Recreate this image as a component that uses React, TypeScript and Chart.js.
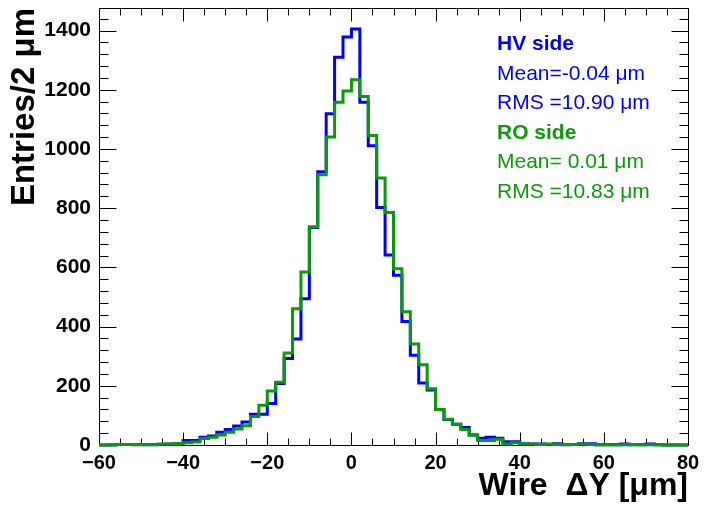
import React, { useEffect, useRef } from 'react';
import { Chart, registerables } from 'chart.js';

Chart.register(...registerables);

// Bin edges (µm), 2 µm bins from -60 to 80
const binEdges = [
  -60, -58, -56, -54, -52, -50, -48, -46, -44, -42,
  -40, -38, -36, -34, -32, -30, -28, -26, -24, -22,
  -20, -18, -16, -14, -12, -10, -8, -6, -4, -2,
  0, 2, 4, 6, 8, 10, 12, 14, 16, 18,
  20, 22, 24, 26, 28, 30, 32, 34, 36, 38,
  40, 42, 44, 46, 48, 50, 52, 54, 56, 58,
  60, 62, 64, 66, 68, 70, 72, 74, 76, 78, 80,
];

// HV side entries per bin
const hvCounts = [
  0, 0, 2, 2, 1, 1, 1, 2, 3, 4,
  15, 15, 26, 30, 43, 52, 64, 78, 104, 104,
  140, 208, 292, 358, 494, 735, 923, 1119, 1310, 1378,
  1405, 1158, 1011, 802, 642, 573, 417, 303, 209, 186,
  120, 86, 70, 59, 34, 23, 26, 23, 11, 11,
  4, 3, 3, 2, 4, 1, 2, 4, 4, 1,
  1, 1, 3, 1, 1, 3, 1, 0, 0, 0,
];

// RO side entries per bin
const roCounts = [
  0, 1, 2, 2, 2, 2, 2, 3, 3, 5,
  8, 10, 22, 26, 34, 43, 54, 65, 96, 134,
  182, 212, 311, 460, 584, 737, 913, 1040, 1158, 1196,
  1234, 1177, 1045, 902, 785, 595, 450, 341, 271, 190,
  120, 87, 70, 52, 34, 15, 15, 19, 3, 8,
  3, 3, 2, 3, 2, 2, 2, 3, 2, 1,
  1, 1, 1, 2, 1, 1, 1, 0, 1, 0,
];

const hvStats = ['HV side', 'Mean=-0.04 \u03bcm', 'RMS =10.90 \u03bcm'];
const roStats = ['RO side', 'Mean= 0.01 \u03bcm', 'RMS =10.83 \u03bcm'];

const X_MIN = -60;
const X_MAX = 80;
const Y_MAX = 1476;

const BLUE = '#0000ff';
const GREEN = '#0a990a';
const FONT = '"Liberation Sans", Arial, Helvetica, sans-serif';

function toStepPoints(counts: number[]) {
  const pts = binEdges.slice(0, counts.length).map((e, i) => ({ x: e, y: counts[i] }));
  pts.push({ x: binEdges[binEdges.length - 1], y: counts[counts.length - 1] });
  return pts;
}

const fmt = (v: number) => (v < 0 ? '\u2212' + String(Math.abs(v)) : String(v));

const rootFrame = {
  id: 'rootFrame',
  beforeDatasetsDraw(chart: any) {
    const { ctx, chartArea: a, scales } = chart;
    const xs = scales.x;
    const ys = scales.y;
    ctx.save();
    ctx.strokeStyle = '#000';
    ctx.lineWidth = 1;
    const L = Math.round(a.left) + 0.5;
    const R = Math.round(a.right) + 0.5;
    const T = Math.round(a.top) + 0.5;
    const B = Math.round(a.bottom) + 0.5;
    ctx.beginPath();
    ctx.rect(L, T, R - L, B - T);
    ctx.stroke();
    ctx.beginPath();
    for (let v = X_MIN; v <= X_MAX; v += 5) {
      const px = Math.round(xs.getPixelForValue(v)) + 0.5;
      const len = v % 20 === 0 ? 13 : 7;
      ctx.moveTo(px, B);
      ctx.lineTo(px, B - len);
      ctx.moveTo(px, T);
      ctx.lineTo(px, T + len);
    }
    for (let v = 0; v <= Y_MAX; v += 40) {
      const py = Math.round(ys.getPixelForValue(v)) + 0.5;
      const len = v % 200 === 0 ? 17 : 9;
      ctx.moveTo(L, py);
      ctx.lineTo(L + len, py);
      ctx.moveTo(R, py);
      ctx.lineTo(R - len, py);
    }
    ctx.stroke();
    ctx.restore();
  },
  afterDraw(chart: any) {
    const { ctx } = chart;
    ctx.save();
    ctx.textAlign = 'left';
    ctx.textBaseline = 'alphabetic';
    const x0 = 497;
    const base = [50, 79.5, 109, 138.5, 168, 197.5];
    const lines = [...hvStats, ...roStats];
    lines.forEach((t, i) => {
      const isHead = i % 3 === 0;
      ctx.font = (isHead ? 'bold ' : '') + '21px ' + FONT;
      ctx.fillStyle = i < 3 ? BLUE : GREEN;
      ctx.fillText(t, x0, base[i]);
    });
    ctx.restore();
  },
};

export default function App() {
  const ref = useRef<HTMLCanvasElement | null>(null);
  useEffect(() => {
    if (!ref.current) return;
    const chart = new Chart(ref.current, {
      type: 'line',
      data: {
        datasets: [
          {
            label: 'RO side',
            data: toStepPoints(roCounts),
            borderColor: GREEN,
            borderWidth: 3,
            pointRadius: 0,
            stepped: 'before',
            fill: false,
            clip: 6,
          },
          {
            label: 'HV side',
            data: toStepPoints(hvCounts),
            borderColor: BLUE,
            borderWidth: 3,
            pointRadius: 0,
            stepped: 'before',
            fill: false,
            clip: 6,
          },
        ],
      },
      options: {
        responsive: false,
        animation: false,
        layout: { padding: { top: 8, right: 19, left: 0, bottom: 0 } },
        plugins: { legend: { display: false }, tooltip: { enabled: false } },
        scales: {
          x: {
            type: 'linear',
            min: X_MIN,
            max: X_MAX,
            grid: { display: false, drawTicks: false },
            border: { display: false },
            ticks: {
              stepSize: 20,
              autoSkip: false,
              maxRotation: 0,
              includeBounds: false,
              padding: 6,
              color: '#000',
              font: { family: FONT, size: 20, weight: 'bold' },
              callback: (v: any) => fmt(Number(v)),
            },
            title: {
              display: true,
              text: 'Wire  \u0394Y [\u03bcm]',
              align: 'end',
              color: '#000',
              font: { family: FONT, size: 32, weight: 'bold' },
              padding: { top: 0, bottom: 5 },
            },
            afterFit: (s: any) => {
              s.height = 65;
              s.paddingLeft = 0;
              s.paddingRight = 0;
            },
          },
          y: {
            type: 'linear',
            min: 0,
            max: Y_MAX,
            grid: { display: false, drawTicks: false },
            border: { display: false },
            ticks: {
              stepSize: 200,
              includeBounds: false,
              padding: 8,
              color: '#000',
              font: { family: FONT, size: 21, weight: 'bold' },
              callback: (v: any) => fmt(Number(v)),
            },
            title: {
              display: true,
              text: 'Entries/2 \u03bcm',
              align: 'end',
              color: '#000',
              font: { family: FONT, size: 33, weight: 'bold' },
              padding: { top: 5, bottom: 0 },
            },
            afterFit: (s: any) => {
              s.width = 99;
              s.paddingTop = 0;
              s.paddingBottom = 0;
            },
          },
        },
      },
      plugins: [rootFrame],
    });
    return () => chart.destroy();
  }, []);
  return (
    <div style={{ position: 'absolute', left: 0, top: 0, width: 707, height: 510, background: '#fff' }}>
      <canvas ref={ref} width={707} height={510} style={{ display: 'block' }} />
    </div>
  );
}
